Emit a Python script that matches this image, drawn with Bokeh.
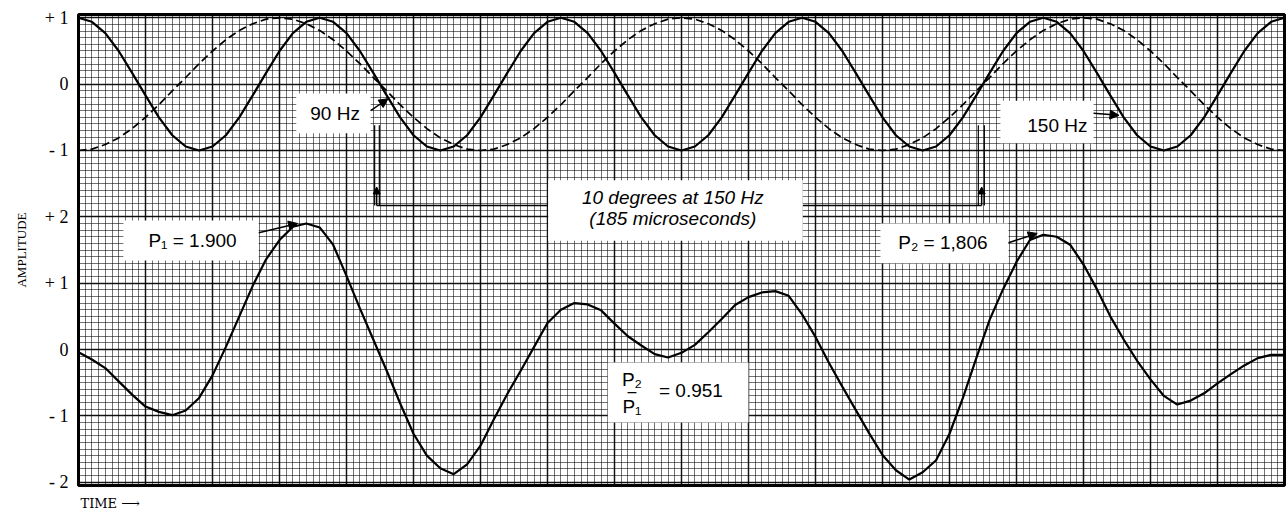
from bokeh.plotting import figure
from bokeh.models import (Range1d, SingleIntervalTicker, FixedTicker, Label, Title,
                          BoxAnnotation, Arrow, NormalHead, ColumnDataSource)
from bokeh.embed import file_html
from bokeh.resources import INLINE

# Time axis expressed in degrees of the 150 Hz signal (one 1/30 s window = 1800 deg)
theta = list(range(0, 1801, 20))

sig150 = [1, .94, .77, .5, .17, -.17, -.5, -.77, -.94, -1, -.94, -.77, -.5, -.17, .17, .5, .77, .94,
          1, .94, .77, .5, .17, -.17, -.5, -.77, -.94, -1, -.94, -.77, -.5, -.17, .17, .5, .77, .94,
          1, .94, .77, .5, .17, -.17, -.5, -.77, -.94, -1, -.94, -.77, -.5, -.17, .17, .5, .77, .94,
          1, .94, .77, .5, .17, -.17, -.5, -.77, -.94, -1, -.94, -.77, -.5, -.17, .17, .5, .77, .94,
          1, .94, .77, .5, .17, -.17, -.5, -.77, -.94, -1, -.94, -.77, -.5, -.17, .17, .5, .77, .94,
          1]

sig90 = [-1, -.98, -.91, -.81, -.67, -.5, -.31, -.1, .1, .31, .5, .67, .81, .91, .98,
         1, .98, .91, .81, .67, .5, .31, .1, -.1, -.31, -.5, -.67, -.81, -.91, -.98,
         -1, -.98, -.91, -.81, -.67, -.5, -.31, -.1, .1, .31, .5, .67, .81, .91, .98,
         1, .98, .91, .81, .67, .5, .31, .1, -.1, -.31, -.5, -.67, -.81, -.91, -.98,
         -1, -.98, -.91, -.81, -.67, -.5, -.31, -.1, .1, .31, .5, .67, .81, .91, .98,
         1, .98, .91, .81, .67, .5, .31, .1, -.1, -.31, -.5, -.67, -.81, -.91, -.98,
         -1]

sig_sum = [-0.04, -0.15, -0.28, -0.48, -0.68, -0.86, -0.94, -0.99, -0.92, -0.73,
           -0.39, 0.04, 0.50, 0.96, 1.36, 1.65, 1.85, 1.90, 1.84, 1.58,
           1.11, 0.62, 0.15, -0.32, -0.81, -1.27, -1.60, -1.79, -1.88, -1.73,
           -1.45, -1.05, -0.67, -0.32, 0.04, 0.40, 0.60, 0.70, 0.68, 0.59,
           0.39, 0.20, 0.06, -0.07, -0.12, -0.05, 0.07, 0.26, 0.46, 0.67,
           0.79, 0.86, 0.88, 0.81, 0.53, 0.19, -0.20, -0.56, -0.91, -1.26,
           -1.59, -1.82, -1.96, -1.85, -1.67, -1.27, -0.73, -0.13, 0.45, 0.91,
           1.32, 1.65, 1.73, 1.70, 1.58, 1.28, 0.91, 0.50, 0.15, -0.17,
           -0.45, -0.70, -0.83, -0.77, -0.66, -0.51, -0.37, -0.24, -0.13, -0.08,
           -0.08]

ytick_pos = [-2, -1, 0, 1, 2, 3, 4, 5]
ytick_text = ["- 2", "- 1", "0", "+ 1", "+ 2", "- 1", "0", "+ 1"]

src = ColumnDataSource(dict(t=theta, s150=sig150, s90=sig90, ssum=sig_sum))

p = figure(width=1286, height=519, output_backend="svg", toolbar_location=None,
           x_range=Range1d(0, 1800), y_range=Range1d(-2.05, 5.05),
           min_border_left=78, min_border_right=2, min_border_top=14, min_border_bottom=34)
p.extra_y_ranges = {"top": Range1d(-6.05, 1.05)}
p.background_fill_color = "white"
p.border_fill_color = "white"
p.outline_line_color = "black"
p.outline_line_width = 3

# graph-paper grid
p.xgrid.ticker = SingleIntervalTicker(interval=100, num_minor_ticks=10)
p.ygrid.ticker = SingleIntervalTicker(interval=1, num_minor_ticks=10)
for g in (p.xgrid[0], p.ygrid[0]):
    g.grid_line_color = "black"
    g.grid_line_alpha = 0.85
    g.grid_line_width = 1.5
    g.minor_grid_line_color = "black"
    g.minor_grid_line_alpha = 0.55
    g.minor_grid_line_width = 1

p.xaxis.visible = False
ax = p.yaxis[0]
ax.ticker = FixedTicker(ticks=ytick_pos)
ax.major_label_overrides = {k: v for k, v in zip(ytick_pos, ytick_text)}
ax.major_label_text_font = "Liberation Serif"
ax.major_label_text_font_size = "18px"
ax.major_label_text_color = "black"
ax.major_tick_line_color = None
ax.minor_tick_line_color = None
ax.major_tick_out = 0
ax.major_label_standoff = 10
ax.axis_line_color = None
ax.axis_label = "AMPLITUDE"
ax.axis_label_text_font = "Liberation Serif"
ax.axis_label_text_font_style = "normal"
ax.axis_label_text_font_size = "13px"
ax.axis_label_text_color = "black"
ax.axis_label_standoff = 13

# curves
p.line("t", "s150", source=src, y_range_name="top", line_color="black", line_width=2.2)
p.line("t", "s90", source=src, y_range_name="top", line_color="black", line_width=1.7,
       line_dash="8 4")
p.line("t", "ssum", source=src, line_color="black", line_width=2.2)

# dimension lines for the 10-degree shift
for xv in (442, 449, 1343, 1352):
    p.segment(x0=[xv], y0=[2.17], x1=[xv], y1=[3.38], line_color="black", line_width=1.2)
p.segment(x0=[445, 1081], y0=[2.17, 2.17], x1=[701, 1348], y1=[2.17, 2.17],
          line_color="black", line_width=1.5)

boxes = [(325, 436, 3.86, 3.26), (1376, 1515, 3.75, 3.11), (701, 1081, 2.55, 1.64),
         (67, 269, 1.945, 1.34), (1197, 1388, 1.90, 1.30), (790, 1000, -0.196, -1.10)]
for l, r, t, b in boxes:
    p.add_layout(BoxAnnotation(left=l, right=r, top=t, bottom=b, fill_color="white",
                               fill_alpha=1, line_color=None))

def lab(x, y, text, size="19px", style="normal", align="center", font="Liberation Sans"):
    p.add_layout(Label(x=x, y=y, text=text, text_align=align, text_baseline="middle",
                       text_font=font, text_font_size=size, text_font_style=style,
                       text_color="black"))

lab(383, 3.56, "90 Hz")
lab(1461, 3.38, "150 Hz")
lab(887, 2.29, "10 degrees at 150 Hz", style="italic")
lab(887, 1.97, "(185 microseconds)", style="italic")
lab(182, 1.64, "P\u2081   =  1.900")
lab(1302, 1.61, "P\u2082   =  1,806")
lab(826, -0.45, "P\u2082")
lab(826, -0.64, "\u2013", size="16px")
lab(826, -0.86, "P\u2081")
lab(918, -0.62, "=  0.951")

def arrow(x0, y0, x1, y1, size=9):
    p.add_layout(Arrow(x_start=x0, y_start=y0, x_end=x1, y_end=y1, line_width=1.5,
                       line_color="black",
                       end=NormalHead(size=size, fill_color="black", line_color="black")))

arrow(436, 3.60, 462, 3.78)
arrow(1515, 3.56, 1553, 3.53)
arrow(269, 1.76, 327, 1.90)
arrow(1388, 1.61, 1431, 1.75)
arrow(445, 2.17, 445, 2.45, size=7)
arrow(1348, 2.17, 1348, 2.45, size=7)

# TIME label under the frame
p.add_layout(Title(text="TIME \u27f6", align="left", offset=2, standoff=16,
                   text_font="DejaVu Serif", text_font_size="13px",
                   text_font_style="normal", text_color="black"), "below")

open("out.html", "w").write(file_html(p, INLINE))
